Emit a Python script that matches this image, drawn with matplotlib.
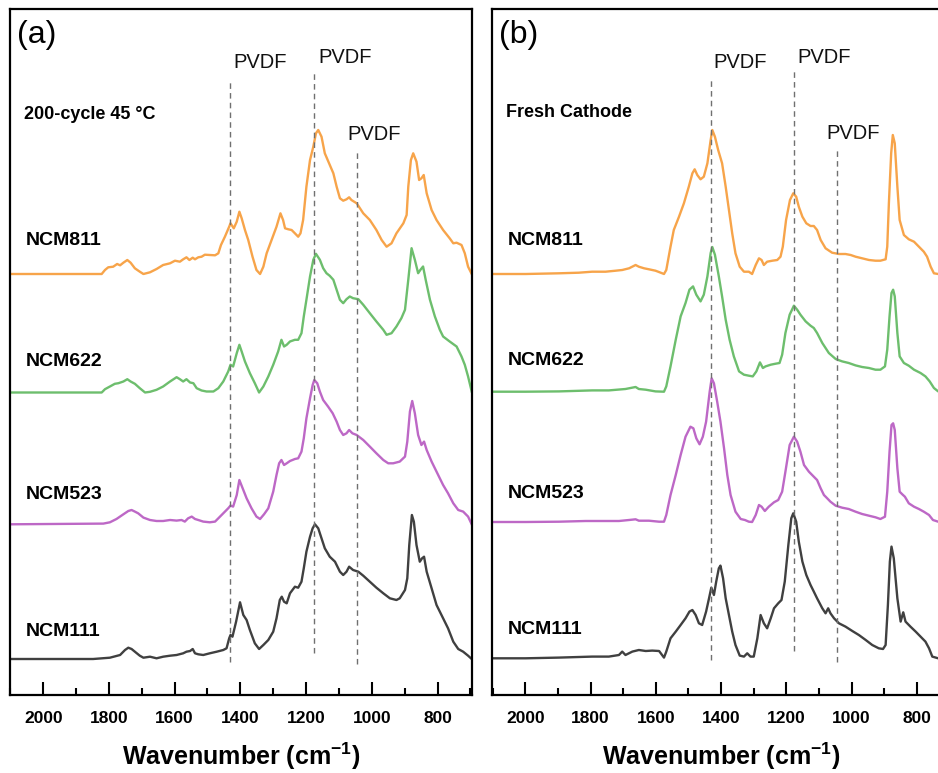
import numpy as np
import matplotlib
matplotlib.use('Agg')
import matplotlib.pyplot as plt

plt.rcParams['font.family'] = ['Liberation Sans', 'DejaVu Sans']
plt.rcParams['mathtext.fontset'] = 'custom'
plt.rcParams['mathtext.rm'] = 'Liberation Sans'
plt.rcParams['mathtext.bf'] = 'Liberation Sans:bold'

# ---------------- data (wavenumber cm-1, intensity a.u.) ----------------
samples = ['NCM811', 'NCM622', 'NCM523', 'NCM111']
colors = ['#F7A44A', '#6DBE6D', '#BD68C6', '#404040']

a_811 = [(2100,0),(1822,0),(1812,4),(1802,6.7),(1787,7.3),(1775,10),(1766,8.7),(1756,11.3),(1744,14),(1734,11.3),(1721,5.7),(1706,2.3),(1695,0),(1675,1.7),(1655,5),(1635,9),(1614,10.7),(1599,13.3),(1584,12.3),(1574,14.7),(1564,16.7),(1555,14),(1545,16.3),(1538,14.7),(1528,16.7),(1518,17.3),(1508,19.3),(1493,19),(1477,18.7),(1467,20.7),(1459,29),(1447,37.3),(1434,47.3),(1430,50.7),(1420,45.7),(1411,52.3),(1403,62.3),(1396,55.7),(1386,44),(1376,34),(1363,17.3),(1351,4),(1340,0),(1330,7.3),(1320,20.7),(1305,34),(1290,47.3),(1278,60.7),(1270,54),(1264,45.7),(1254,44.7),(1244,44),(1234,40.7),(1224,37.3),(1217,40.7),(1209,54),(1199,87.3),(1188,114),(1178,127.3),(1170,140.7),(1163,144),(1153,137.3),(1143,120.7),(1130,110.7),(1117,100.7),(1107,87.3),(1097,75.7),(1087,73.3),(1077,74.7),(1069,76.7),(1062,74),(1046,70.7),(1026,60.7),(1006,54),(986,44),(970,34),(955,27.3),(940,30.7),(925,40.7),(904,50.7),(894,59),(889,87.3),(881,114),(874,120.7),(864,112.3),(856,94),(849,95.7),(842,99),(833,80.7),(818,64),(803,54),(783,44),(763,35.7),(752,30.7),(742,31.3),(727,29),(717,20.7),(707,7.3),(696,0)]

a_622 = [(2100,0),(1822,0),(1812,3.3),(1797,6),(1782,8.7),(1771,9.3),(1756,11),(1744,13.3),(1734,11),(1721,8.7),(1706,4.3),(1690,0),(1675,0.7),(1655,2.7),(1635,6),(1614,11),(1594,15.3),(1584,13.3),(1574,11),(1564,13.3),(1553,10),(1543,9.3),(1533,4.3),(1518,2),(1503,1),(1482,1),(1467,4.3),(1452,11),(1437,21),(1430,27.7),(1422,26),(1411,39.3),(1403,47.7),(1396,41),(1386,31),(1371,19.3),(1356,9.3),(1343,0),(1330,6),(1315,16),(1300,27.7),(1285,41),(1275,52.7),(1267,46),(1259,47.7),(1249,51),(1234,52.7),(1224,52.7),(1214,59.3),(1207,76),(1199,92.7),(1188,116),(1178,132.7),(1170,138.7),(1158,132.7),(1148,124.3),(1138,119.3),(1128,116.7),(1117,112.7),(1107,102.7),(1097,92.7),(1087,89.3),(1077,93.3),(1067,96),(1057,94.3),(1041,93.3),(1026,87.7),(1006,79.3),(986,71),(965,62.7),(955,57.7),(940,59.3),(925,66),(910,74.3),(899,82.7),(889,112.7),(879,144.3),(869,132.7),(859,119.3),(852,122.7),(844,126),(836,112.7),(823,92.7),(808,76),(793,62.7),(783,56),(763,51),(742,46),(727,36),(717,27.7),(707,16),(696,1)]

a_523 = [(2100,0),(1817,0.7),(1797,2),(1777,5.3),(1756,10),(1741,13.3),(1731,14.3),(1721,12.7),(1711,11),(1695,6.7),(1675,4.3),(1655,3.3),(1635,3.3),(1614,4.3),(1594,3.7),(1579,4.3),(1569,2.7),(1559,6),(1548,7.7),(1538,5.3),(1528,4.3),(1513,2.7),(1493,2),(1477,2.7),(1467,6),(1452,11),(1437,16),(1430,18.7),(1422,17.7),(1411,29.3),(1403,44.3),(1393,36),(1381,26),(1366,16),(1351,7.7),(1340,5.3),(1328,10),(1315,16),(1300,32.7),(1290,49.3),(1282,61),(1275,64.3),(1267,59.3),(1259,61),(1249,63.3),(1234,65.3),(1224,66),(1214,72.7),(1207,86),(1199,106),(1188,126),(1180,139.3),(1175,144.3),(1166,141),(1158,132.7),(1148,124.3),(1133,117.7),(1119,111),(1107,102.7),(1097,94.3),(1087,89.3),(1077,91),(1069,94.3),(1059,91),(1046,89.3),(1026,84.3),(1006,77.7),(986,71),(965,64.3),(950,61),(935,61),(915,62.7),(899,67.7),(892,82.7),(884,112.7),(877,123.3),(869,111),(859,89.3),(849,79.3),(841,82.7),(833,74.3),(818,62.7),(798,49.3),(783,39.3),(768,31),(752,21),(737,14.3),(722,12.7),(707,7.7),(696,0)]

a_111 = [(2100,0),(1848,0),(1797,1.3),(1766,4),(1751,9),(1741,11.3),(1731,10),(1721,7.3),(1706,3.3),(1695,1.3),(1675,2.3),(1655,0.7),(1635,2.3),(1614,3.3),(1594,4),(1574,5.7),(1564,7.3),(1553,8),(1545,10),(1538,5.7),(1528,4.7),(1513,4),(1493,5.7),(1472,7.3),(1452,9),(1442,10.7),(1434,20.7),(1430,24),(1424,22.3),(1413,37.3),(1401,56.7),(1391,44),(1381,39),(1371,29),(1356,15.7),(1343,10),(1330,14),(1315,19),(1300,27.3),(1290,40.7),(1280,59),(1274,62.3),(1267,57.3),(1259,55.7),(1249,65.7),(1234,72.3),(1224,71.3),(1214,77.3),(1207,90.7),(1199,107.3),(1188,122.3),(1180,130.7),(1173,134.7),(1163,130.7),(1153,120.7),(1143,110.7),(1128,102.3),(1112,97.3),(1097,87.3),(1087,84),(1077,87.3),(1069,92.3),(1057,89),(1041,87.3),(1026,83.3),(1006,77.3),(986,71.3),(965,65.7),(945,60.7),(925,59),(915,60.7),(899,69),(892,80.7),(886,114),(878,144),(872,137.3),(864,114),(854,97.3),(847,100.7),(841,102.3),(833,87.3),(818,70.7),(803,54),(783,40.7),(768,30.7),(752,17.3),(737,10),(722,7.3),(707,3.3),(696,0)]

b_811 = [(2100,0),(1999,0),(1897,0.7),(1836,1.3),(1795,2.3),(1754,2.3),(1723,3.3),(1703,4),(1682,5.7),(1662,9),(1652,7.3),(1636,5.7),(1621,4.7),(1601,3.3),(1585,1.3),(1575,0),(1568,4),(1555,27.3),(1545,44),(1529,57.3),(1514,70.7),(1499,87.3),(1488,100.7),(1481,104.7),(1473,99),(1463,94.7),(1453,97.3),(1442,110.7),(1432,134),(1427,144),(1419,137.3),(1409,124),(1397,110.7),(1386,87.3),(1376,64),(1366,40.7),(1356,20.7),(1343,7.3),(1330,2.3),(1315,2.3),(1305,0),(1294,9),(1284,15.7),(1276,14),(1269,9),(1259,12.3),(1243,13.3),(1228,14),(1218,17.3),(1211,27.3),(1201,54),(1189,74),(1179,80.7),(1170,77.3),(1162,67.3),(1151,57.3),(1139,50.7),(1126,48),(1116,48),(1106,44),(1095,34),(1080,25.7),(1060,21.3),(1039,20),(1019,20),(1003,19),(988,17.3),(968,15.7),(947,14),(927,13.3),(912,13.3),(896,14.7),(891,27.3),(886,70.7),(879,120.7),(874,139),(868,130.7),(860,87.3),(853,54),(840,39),(825,34.7),(809,32.3),(794,27.3),(779,22.3),(769,17.3),(758,7.3),(748,0.7),(735,0),(700,0)]

b_622 = [(2100,0),(1999,0),(1897,0.3),(1795,1.3),(1744,1.3),(1693,2.7),(1662,4.7),(1652,2.7),(1631,2),(1601,0.3),(1575,0),(1568,5.3),(1555,25.3),(1539,52),(1524,75.3),(1509,88.7),(1497,102),(1486,105.3),(1476,97),(1463,90.3),(1453,97),(1442,115.3),(1432,138.7),(1427,144.7),(1419,137),(1407,115.3),(1397,95.3),(1386,72),(1374,52),(1361,35.3),(1345,20.3),(1330,17),(1315,16),(1303,15.3),(1292,20.3),(1281,29.3),(1272,23.7),(1264,25.3),(1248,27),(1233,28),(1221,28.7),(1213,37),(1203,58.7),(1190,77),(1177,86),(1167,82),(1157,77),(1141,70.3),(1126,66),(1116,63.7),(1106,58.7),(1090,48.7),(1070,38.7),(1049,32.7),(1029,30.3),(1009,28.7),(988,26.3),(968,24.7),(947,23.7),(927,22),(912,22),(898,25.3),(891,42),(884,75.3),(878,98.7),(873,102),(868,95.3),(860,58.7),(853,35.3),(840,28.7),(825,26),(809,22),(789,18.7),(774,15.3),(761,10.3),(748,3.7),(735,0.3),(700,0)]

b_523 = [(2100,0),(1999,0),(1897,0.3),(1815,1),(1764,1),(1713,1),(1682,2),(1662,2.7),(1652,1.3),(1621,1.3),(1590,0.3),(1575,0.3),(1568,7),(1555,27),(1539,47),(1524,67),(1509,85.3),(1494,95.3),(1485,93.7),(1476,83.7),(1466,77.7),(1456,85.3),(1446,100.3),(1435,130.3),(1429,143.7),(1422,138.7),(1412,120.3),(1402,100.3),(1391,73.7),(1381,47),(1371,27),(1356,10.3),(1340,3),(1327,2),(1315,0.3),(1305,0),(1294,7),(1284,17),(1276,15.3),(1266,11),(1254,15.3),(1238,19.7),(1225,22),(1213,30.3),(1203,50.3),(1190,77),(1177,85.3),(1167,80.3),(1157,70.3),(1146,57),(1131,50.3),(1116,45.3),(1106,42),(1095,33.7),(1085,27),(1075,23.7),(1065,20.3),(1049,16.3),(1029,14.3),(1009,13),(988,10.3),(968,8),(947,6.3),(927,4.7),(912,3),(898,5.3),(891,30.3),(884,70.3),(878,97),(873,98.7),(868,92),(860,53.7),(853,30.3),(845,27.7),(837,25.3),(825,18.7),(809,15.3),(794,13),(779,10.3),(763,7),(751,2),(735,0.3),(700,0)]

b_111 = [(2100,0),(1999,0),(1897,0.7),(1795,1.7),(1744,1.7),(1713,3.3),(1703,6.7),(1693,3.3),(1672,6.7),(1652,8.3),(1631,7.3),(1611,7.7),(1590,7.3),(1575,0.7),(1568,6.7),(1555,20),(1539,26.7),(1524,33.3),(1509,40),(1497,46.7),(1488,48.3),(1478,43.3),(1468,35),(1458,33.3),(1446,46.7),(1437,60),(1430,70.7),(1422,63.3),(1415,76.7),(1407,90),(1402,92.7),(1394,80),(1386,60),(1376,43.3),(1366,26.7),(1356,13.3),(1343,2.7),(1330,1.7),(1320,5),(1310,1.7),(1300,1.7),(1289,20),(1279,43.3),(1269,35),(1259,30),(1248,40),(1238,50),(1225,55),(1215,58.3),(1205,76.7),(1194,113.3),(1185,140),(1179,145),(1170,136.7),(1162,116.7),(1151,96.7),(1139,83.3),(1126,73.3),(1116,66.7),(1106,60),(1090,50),(1080,45),(1072,50),(1065,45),(1054,40),(1039,35),(1019,31.7),(998,27.3),(978,23.3),(957,18.3),(937,13.3),(917,10),(904,9.3),(896,13.3),(889,53.3),(883,96.7),(878,111.7),(871,100),(860,60),(850,36.7),(842,46),(835,36.7),(820,31.7),(804,26.7),(789,21.7),(774,16.7),(763,10),(753,1.7),(735,0),(700,0)]

spectra_a = [a_811, a_622, a_523, a_111]
spectra_b = [b_811, b_622, b_523, b_111]
offsets_a = [421, 302.5, 170.7, 36]
offsets_b = [421, 303.3, 173, 36.7]
label_y_a = [450, 329, 196, 59]
label_y_b = [450, 330, 197, 61]

pvdf_lines = [1430, 1176, 1046]
pvdf_span_a = [(33, 616), (42, 624), (31, 546)]
pvdf_span_b = [(35, 616), (44, 624), (33, 546)]
pvdf_text_a = [(1340, 627), (1082, 632), (992, 555)]
pvdf_text_b = [(1342, 627), (1083, 632), (996, 556)]

major_ticks = [2000, 1800, 1600, 1400, 1200, 1000, 800]
minor_ticks = [2100, 1900, 1700, 1500, 1300, 1100, 900, 700]

# ---------------- figure ----------------
W, H = 938, 773
fig = plt.figure(figsize=(W / 100, H / 100), dpi=100)
axA = fig.add_axes([10 / W, 78 / H, 461.7 / W, 686 / H])
axB = fig.add_axes([492.3 / W, 78 / H, 458.6 / W, 686 / H])


def draw_panel(ax, spectra, offsets, label_y, spans, ptext, letter, condition, cond_y):
    for data, off, col in zip(spectra, offsets, colors):
        arr = np.array(data, dtype=float)
        ax.plot(arr[:, 0], arr[:, 1] + off, color=col, lw=1.7, solid_joinstyle='round')
    for x, (y0, y1) in zip(pvdf_lines, spans):
        ax.plot([x, x], [y0, y1], color='#707070', lw=1.0, linestyle=(0, (4, 3)))
    for (x, y) in ptext:
        ax.text(x, y, 'PVDF', fontsize=14.5, ha='center', va='baseline', color='#111111')
    tr = ax.get_yaxis_transform()
    for name, y in zip(samples, label_y):
        ax.text(0.034, y, name, transform=tr, fontsize=14, fontweight='bold',
                ha='left', va='baseline')
    ax.text(0.03, cond_y, condition, transform=tr, fontsize=13, fontweight='bold',
            ha='left', va='baseline')
    ax.text(0.015, 0.962, letter, transform=ax.transAxes, fontsize=23,
            ha='left', va='center')

    ax.set_xlim(2101, 696)
    ax.set_ylim(0, 686)
    ax.set_yticks([])
    ax.set_xticks(major_ticks, [str(t) for t in major_ticks], fontweight='bold', fontsize=12.5)
    ax.set_xticks(minor_ticks, minor=True)
    ax.tick_params(axis='x', which='major', direction='in', length=9.5, width=1.5, pad=11.5)
    ax.tick_params(axis='x', which='minor', direction='in', length=5, width=1.5)
    for s in ax.spines.values():
        s.set_linewidth(1.6)
    ax.set_xlabel(r'Wavenumber (cm$^{\mathbf{-1}}$)', fontsize=18, fontweight='bold', labelpad=10.5)


draw_panel(axA, spectra_a, offsets_a, label_y_a, pvdf_span_a, pvdf_text_a, '(a)',
           '200-cycle 45 °C', 576)
draw_panel(axB, spectra_b, offsets_b, label_y_b, pvdf_span_b, pvdf_text_b, '(b)',
           'Fresh Cathode', 578)

fig.savefig('out.png', dpi=100)
